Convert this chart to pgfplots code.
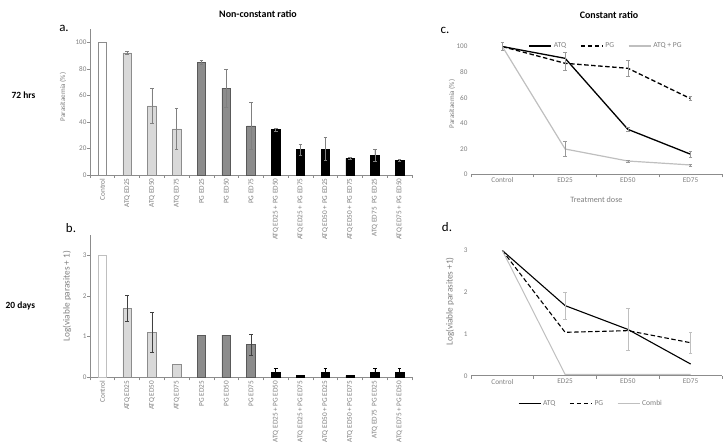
\documentclass[border=0pt]{standalone}
\usepackage{fontspec}
\setmainfont{Carlito}
\usepackage{pgfplots}
\pgfplotsset{compat=1.18}

\definecolor{txt}{HTML}{7F7F7F}
\definecolor{axgray}{HTML}{8C8C8C}
\definecolor{lightfill}{HTML}{D9D9D9}
\definecolor{midfill}{HTML}{8C8C8C}
\definecolor{darkedge}{HTML}{595959}
\definecolor{errgray}{HTML}{808080}
\definecolor{errdark}{HTML}{404040}
\definecolor{linegray}{HTML}{BFBFBF}

\pgfplotsset{
  base/.style={
    scale only axis, anchor=south west, clip=false,
    axis x line*=bottom, axis y line*=left,
    axis line style={draw=axgray, line width=0.6bp},
    tick align=outside,
    major tick length=0pt, minor tick length=3bp,
    minor tick style={draw=axgray, line width=0.6bp},
    ticklabel style={text=txt},
    /pgf/number format/assume math mode=true,
    yticklabel style={font=\fontsize{7.2}{8}\selectfont},
    label style={text=txt, font=\fontsize{7.2}{8}\selectfont},
  },
  bars/.style={
    base, width=322bp, xmin=-0.5, xmax=12.5, ymin=0,
    xtick={0,...,12}, minor xtick={-0.5,0.5,...,12.5},
    xticklabels={Control, ATQ ED25, ATQ ED50, ATQ ED75, PG ED25, PG ED50, PG ED75,
      ATQ ED25 + PG ED50, ATQ ED25 + PG ED75, ATQ ED50 + PG ED25,
      ATQ ED50 + PG ED75, ATQ ED75 \ PG ED25, ATQ ED75 + PG ED50},
    xticklabel style={rotate=90, anchor=east, font=\fontsize{7.3}{8}\selectfont},
  },
  lines/.style={
    base, width=251bp, xmin=-0.5, xmax=3.5, ymin=0,
    xtick={0,...,3}, minor xtick={-0.5,0.5,...,3.5},
    xticklabels={Control,ED25,ED50,ED75},
    xticklabel style={font=\fontsize{7.3}{8}\selectfont},
    y axis line style={draw=none},
    legend image code/.code={\draw[##1] (0bp,0bp) -- (22bp,0bp);},
    legend style={draw=none, fill=none, font=\fontsize{7.6}{9}\selectfont, text=txt,
      legend columns=-1, /tikz/every even column/.append style={column sep=12bp}},
  },
  bar/.style={ybar, bar width=8.5bp, bar shift=0pt, line width=0.6bp},
  eb/.style={
    /pgfplots/error bars/y dir=both,
    /pgfplots/error bars/y explicit,
    /pgfplots/error bars/error bar style={draw=#1, line width=0.6bp},
    /pgfplots/error bars/error mark options={rotate=90, draw=#1, mark size=1.8bp, line width=0.6bp},
  },
}

\begin{document}
\begin{tikzpicture}
\path[use as bounding box] (0bp,0bp) rectangle (725bp,446bp);

% headings
\node[font=\bfseries\fontsize{10}{12}\selectfont] at (258bp,432bp) {Non-constant ratio};
\node[font=\bfseries\fontsize{10}{12}\selectfont] at (609bp,431bp) {Constant ratio};
\node[font=\bfseries\fontsize{9.5}{11}\selectfont, anchor=west] at (8bp,351bp) {72 hrs};
\node[font=\bfseries\fontsize{9.5}{11}\selectfont, anchor=west] at (2bp,140bp) {20 days};
\node[font=\fontsize{13}{14}\selectfont] at (64bp,418bp) {a.};
\node[font=\fontsize{13}{14}\selectfont] at (71bp,218bp) {b.};
\node[font=\fontsize{13}{14}\selectfont] at (445bp,416bp) {c.};
\node[font=\fontsize{13}{14}\selectfont] at (447bp,219bp) {d.};

% a. 72 hrs, non-constant ratio
\begin{axis}[bars, at={(90bp,271bp)}, height=146bp, ymax=110,
  ytick={0,20,...,100}, minor ytick={0,20,...,100},
  ylabel={Parasitaemia (\%)},
  ylabel style={at={(axis description cs:-0.084,0.534)}, anchor=center}]
\addplot[bar, fill=white, draw=axgray] coordinates {(0,100)};
\addplot[bar, fill=lightfill, draw=axgray, eb=errgray] coordinates {
  (1,92) +- (0,1) (2,52) +- (0,13) (3,34.8) +- (0,15.4)};
\addplot[bar, fill=midfill, draw=darkedge, eb=errgray] coordinates {
  (4,85) +- (0,1.5) (5,65.4) +- (0,14.4) (6,37) +- (0,17.7)};
\addplot[bar, fill=black, draw=black, eb=errgray] coordinates {
  (7,34.2) +- (0,1) (8,19) +- (0,3.8) (9,19.5) +- (0,8.7)
  (10,12.5) +- (0,1) (11,15) +- (0,4.5) (12,11) +- (0,1)};
\end{axis}

% b. 20 days, non-constant ratio
\begin{axis}[bars, at={(90bp,68.7bp)}, height=142.3bp, ymax=3.5,
  ytick={0,1,2,3}, minor ytick={0,1,2,3},
  ylabel={Log(viable parasites + 1)},
  ylabel style={at={(axis description cs:-0.071,0.571)}, anchor=center,
    font=\fontsize{9.3}{10}\selectfont}]
\addplot[bar, fill=white, draw=linegray] coordinates {(0,3)};
\addplot[bar, fill=lightfill, draw=axgray, eb=errdark] coordinates {
  (1,1.69) +- (0,0.32) (2,1.11) +- (0,0.5)};
\addplot[bar, fill=lightfill, draw=axgray] coordinates {(3,0.31)};
\addplot[bar, fill=midfill, draw=darkedge] coordinates {(4,1.04) (5,1.04)};
\addplot[bar, fill=midfill, draw=darkedge, eb=errdark] coordinates {(6,0.8) +- (0,0.25)};
\addplot[bar, fill=black, draw=black, eb=black] coordinates {
  (7,0.12) +- (0,0.09) (9,0.12) +- (0,0.09) (11,0.12) +- (0,0.09) (12,0.12) +- (0,0.09)};
\addplot[bar, fill=black, draw=black] coordinates {(8,0.04) (10,0.04)};
\end{axis}

% c. 72 hrs, constant ratio
\begin{axis}[lines, at={(471bp,271.7bp)}, height=140.5bp, ymax=110,
  ytick={0,20,...,100},
  ylabel={Parasitaemia (\%)},
  ylabel style={at={(axis description cs:-0.076,0.5)}, anchor=center},
  xlabel={Treatment dose},
  xlabel style={at={(axis description cs:0.5,-0.183)}, anchor=center,
    font=\fontsize{8.2}{9}\selectfont},
  legend style={at={(0.538,0.913)}, anchor=center}]
\addplot[black, line width=1.3bp] coordinates {(0,100) (1,90.8) (2,35.2) (3,15.7)};
\addlegendentry{ATQ}
\addplot[black, line width=1.3bp, dash pattern=on 4.5bp off 2.5bp] coordinates {(0,100) (1,86.9) (2,83) (3,59.2)};
\addlegendentry{PG}
\addplot[linegray, line width=1.2bp] coordinates {(0,100) (1,19.8) (2,10.4) (3,7.3)};
\addlegendentry{ATQ + PG}
\addplot[draw=none, forget plot, eb=linegray!80!black] coordinates {
  (2,35.2) +- (0,1.5) (3,15.7) +- (0,2.5)};
\addplot[draw=none, forget plot, eb=linegray!80!black] coordinates {
  (1,88.5) +- (0,7) (2,83) +- (0,6.3) (3,59.2) +- (0,1.5)};
\addplot[draw=none, forget plot, eb=linegray!80!black] coordinates {
  (0,100) +- (0,3) (1,19.8) +- (0,5.7) (2,10.4) +- (0,0.8) (3,7.3) +- (0,0.8)};
\end{axis}

% d. 20 days, constant ratio
\begin{axis}[lines, at={(471bp,70.3bp)}, height=146bp, ymax=3.5,
  ytick={0,1,2,3},
  ylabel={Log(viable parasites +1)},
  ylabel style={at={(axis description cs:-0.084,0.508)}, anchor=center,
    font=\fontsize{9.3}{10}\selectfont},
  legend style={at={(0.478,-0.19)}, anchor=center}]
\addplot[black, line width=1.1bp] coordinates {(0,3) (1,1.68) (2,1.11) (3,0.28)};
\addlegendentry{ATQ}
\addplot[black, line width=1.1bp, dash pattern=on 4.5bp off 2.5bp] coordinates {(0,3) (1,1.04) (2,1.08) (3,0.79)};
\addlegendentry{PG}
\addplot[linegray, line width=1bp] coordinates {(0,3) (1,0.03) (2,0.03) (3,0.03)};
\addlegendentry{Combi}
\addplot[draw=none, forget plot, eb=linegray] coordinates {
  (1,1.68) +- (0,0.32) (2,1.11) +- (0,0.5) (3,0.79) +- (0,0.25)};
\end{axis}
\end{tikzpicture}
\end{document}
